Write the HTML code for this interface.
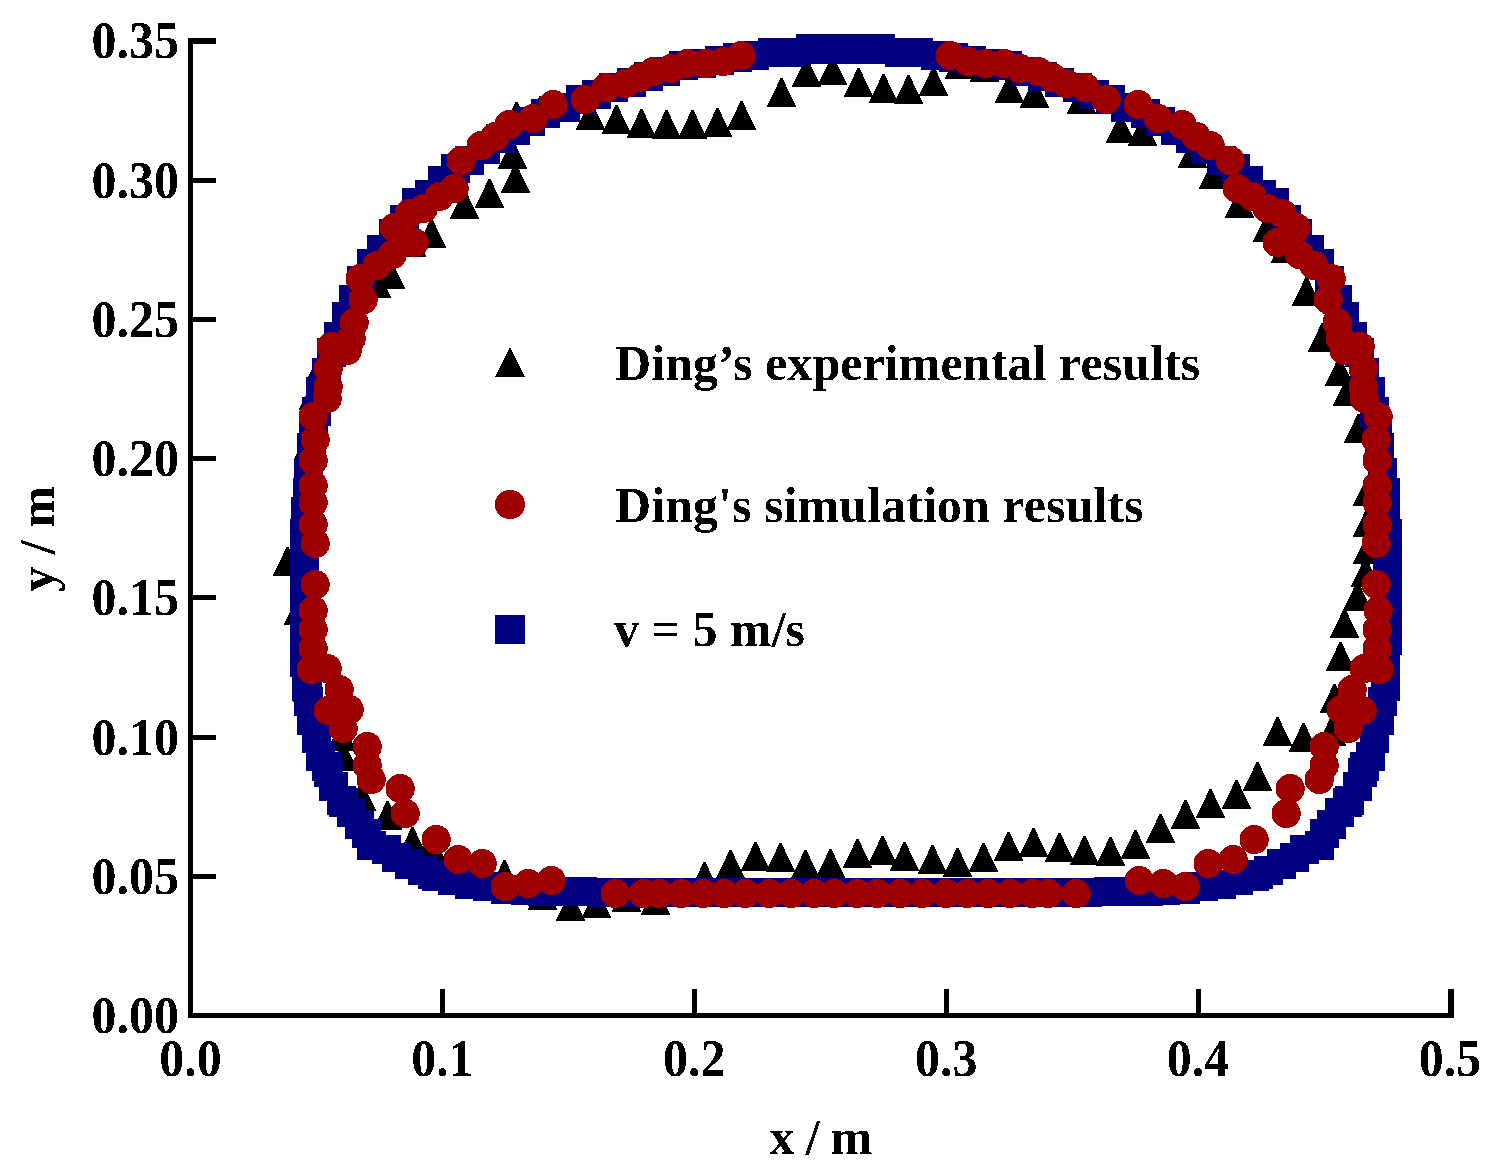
<!DOCTYPE html>
<html lang="en">
<head>
<meta charset="utf-8">
<title>Ding comparison chart</title>
<style>
html,body{margin:0;padding:0;background:#fff;}
body{width:1501px;height:1174px;overflow:hidden;}
svg{display:block;}
text{font-family:"Liberation Serif","Times New Roman",serif;font-weight:bold;font-size:50px;fill:#000;}
</style>
</head>
<body>
<svg width="1501" height="1174" viewBox="0 0 1501 1174">
<defs><filter id="al" x="-5%" y="-20%" width="110%" height="140%" color-interpolation-filters="sRGB"><feComponentTransfer><feFuncA type="discrete" tableValues="0 1"/></feComponentTransfer></filter></defs>
<rect width="1501" height="1174" fill="#fff"/>

<g fill="#000" shape-rendering="crispEdges">
<polygon points="272.68,576 302.32,576 288.4,547 286.6,547"/>
<polygon points="283.68,625 313.32,625 299.4,596 297.6,596"/>
<polygon points="307.68,378 337.32,378 323.4,349 321.6,349"/>
<polygon points="298.68,410 328.32,410 314.4,381 312.6,381"/>
<polygon points="294.68,458 324.32,458 310.4,429 308.6,429"/>
<polygon points="326.68,751 356.32,751 342.4,722 340.6,722"/>
<polygon points="328.68,771 358.32,771 344.4,742 342.6,742"/>
<polygon points="346.68,811 376.32,811 362.4,782 360.6,782"/>
<polygon points="372.68,830 402.32,830 388.4,801 386.6,801"/>
<polygon points="397.68,856 427.32,856 413.4,827 411.6,827"/>
<polygon points="415.68,860 445.32,860 431.4,831 429.6,831"/>
<polygon points="489.68,889 519.32,889 505.4,860 503.6,860"/>
<polygon points="527.68,910 557.32,910 543.4,881 541.6,881"/>
<polygon points="555.68,921 585.32,921 571.4,892 569.6,892"/>
<polygon points="581.68,918 611.32,918 597.4,889 595.6,889"/>
<polygon points="611.68,912 641.32,912 627.4,883 625.6,883"/>
<polygon points="640.68,915 670.32,915 656.4,886 654.6,886"/>
<polygon points="689.68,891 719.32,891 705.4,862 703.6,862"/>
<polygon points="715.68,879 745.32,879 731.4,850 729.6,850"/>
<polygon points="740.68,871 770.32,871 756.4,842 754.6,842"/>
<polygon points="765.68,872 795.32,872 781.4,843 779.6,843"/>
<polygon points="790.68,879 820.32,879 806.4,850 804.6,850"/>
<polygon points="815.68,878 845.32,878 831.4,849 829.6,849"/>
<polygon points="842.68,868 872.32,868 858.4,839 856.6,839"/>
<polygon points="867.68,865 897.32,865 883.4,836 881.6,836"/>
<polygon points="889.68,871 919.32,871 905.4,842 903.6,842"/>
<polygon points="917.68,874 947.32,874 933.4,845 931.6,845"/>
<polygon points="942.68,877 972.32,877 958.4,848 956.6,848"/>
<polygon points="968.68,872 998.32,872 984.4,843 982.6,843"/>
<polygon points="993.68,861 1023.32,861 1009.4,832 1007.6,832"/>
<polygon points="1018.68,857 1048.32,857 1034.4,828 1032.6,828"/>
<polygon points="1044.68,862 1074.32,862 1060.4,833 1058.6,833"/>
<polygon points="1069.68,865 1099.32,865 1085.4,836 1083.6,836"/>
<polygon points="1095.68,866 1125.32,866 1111.4,837 1109.6,837"/>
<polygon points="1120.68,859 1150.32,859 1136.4,830 1134.6,830"/>
<polygon points="1145.68,843 1175.32,843 1161.4,814 1159.6,814"/>
<polygon points="1170.68,829 1200.32,829 1186.4,800 1184.6,800"/>
<polygon points="1195.68,818 1225.32,818 1211.4,789 1209.6,789"/>
<polygon points="1221.68,809 1251.32,809 1237.4,780 1235.6,780"/>
<polygon points="1242.68,791 1272.32,791 1258.4,762 1256.6,762"/>
<polygon points="1262.68,746 1292.32,746 1278.4,717 1276.6,717"/>
<polygon points="1288.68,752 1318.32,752 1304.4,723 1302.6,723"/>
<polygon points="1316.68,746 1346.32,746 1332.4,717 1330.6,717"/>
<polygon points="1319.68,713 1349.32,713 1335.4,684 1333.6,684"/>
<polygon points="1325.68,671 1355.32,671 1341.4,642 1339.6,642"/>
<polygon points="1329.68,638 1359.32,638 1345.4,609 1343.6,609"/>
<polygon points="1342.68,611 1372.32,611 1358.4,582 1356.6,582"/>
<polygon points="1350.68,587 1380.32,587 1366.4,558 1364.6,558"/>
<polygon points="1352.68,564 1382.32,564 1368.4,535 1366.6,535"/>
<polygon points="1352.68,537 1382.32,537 1368.4,508 1366.6,508"/>
<polygon points="1352.68,506 1382.32,506 1368.4,477 1366.6,477"/>
<polygon points="1343.68,443 1373.32,443 1359.4,414 1357.6,414"/>
<polygon points="1332.68,406 1362.32,406 1348.4,377 1346.6,377"/>
<polygon points="1324.68,386 1354.32,386 1340.4,357 1338.6,357"/>
<polygon points="1307.68,352 1337.32,352 1323.4,323 1321.6,323"/>
<polygon points="1291.68,306 1321.32,306 1307.4,277 1305.6,277"/>
<polygon points="1270.68,263 1300.32,263 1286.4,234 1284.6,234"/>
<polygon points="1252.68,242 1282.32,242 1268.4,213 1266.6,213"/>
<polygon points="1224.68,218 1254.32,218 1240.4,189 1238.6,189"/>
<polygon points="1198.68,189 1228.32,189 1214.4,160 1212.6,160"/>
<polygon points="1177.68,168 1207.32,168 1193.4,139 1191.6,139"/>
<polygon points="1127.68,146 1157.32,146 1143.4,117 1141.6,117"/>
<polygon points="1105.68,143 1135.32,143 1121.4,114 1119.6,114"/>
<polygon points="1066.68,114 1096.32,114 1082.4,85 1080.6,85"/>
<polygon points="1019.68,108 1049.32,108 1035.4,79 1033.6,79"/>
<polygon points="994.68,103 1024.32,103 1010.4,74 1008.6,74"/>
<polygon points="969.68,82 999.32,82 985.4,53 983.6,53"/>
<polygon points="944.68,79 974.32,79 960.4,50 958.6,50"/>
<polygon points="918.68,96 948.32,96 934.4,67 932.6,67"/>
<polygon points="893.68,104 923.32,104 909.4,75 907.6,75"/>
<polygon points="868.68,103 898.32,103 884.4,74 882.6,74"/>
<polygon points="843.68,97 873.32,97 859.4,68 857.6,68"/>
<polygon points="817.68,85 847.32,85 833.4,56 831.6,56"/>
<polygon points="791.68,87 821.32,87 807.4,58 805.6,58"/>
<polygon points="766.68,107 796.32,107 782.4,78 780.6,78"/>
<polygon points="726.68,130 756.32,130 742.4,101 740.6,101"/>
<polygon points="702.68,137 732.32,137 718.4,108 716.6,108"/>
<polygon points="677.68,139 707.32,139 693.4,110 691.6,110"/>
<polygon points="651.68,139 681.32,139 667.4,110 665.6,110"/>
<polygon points="626.68,138 656.32,138 642.4,109 640.6,109"/>
<polygon points="601.68,134 631.32,134 617.4,105 615.6,105"/>
<polygon points="575.68,130 605.32,130 591.4,101 589.6,101"/>
<polygon points="525.68,125 555.32,125 541.4,96 539.6,96"/>
<polygon points="501.68,131 531.32,131 517.4,102 515.6,102"/>
<polygon points="497.68,169 527.32,169 513.4,140 511.6,140"/>
<polygon points="500.68,193 530.32,193 516.4,164 514.6,164"/>
<polygon points="474.68,208 504.32,208 490.4,179 488.6,179"/>
<polygon points="449.68,219 479.32,219 465.4,190 463.6,190"/>
<polygon points="416.68,248 446.32,248 432.4,219 430.6,219"/>
<polygon points="396.68,257 426.32,257 412.4,228 410.6,228"/>
<polygon points="375.68,289 405.32,289 391.4,260 389.6,260"/>
<polygon points="361.68,298 391.32,298 377.4,269 375.6,269"/>
</g>
<g fill="#000080" shape-rendering="crispEdges">
<rect x="831" y="35" width="29" height="29"/>
<rect x="831" y="34" width="29" height="29"/>
<rect x="848" y="35" width="29" height="29"/>
<rect x="814" y="35" width="29" height="29"/>
<rect x="849" y="34" width="29" height="29"/>
<rect x="813" y="34" width="29" height="29"/>
<rect x="857" y="35" width="29" height="29"/>
<rect x="805" y="35" width="29" height="29"/>
<rect x="866" y="34" width="29" height="29"/>
<rect x="796" y="34" width="29" height="29"/>
<rect x="885" y="38" width="29" height="29"/>
<rect x="777" y="38" width="29" height="29"/>
<rect x="904" y="38" width="29" height="29"/>
<rect x="758" y="38" width="29" height="29"/>
<rect x="921" y="41" width="29" height="29"/>
<rect x="740" y="41" width="29" height="29"/>
<rect x="939" y="43" width="29" height="29"/>
<rect x="723" y="43" width="29" height="29"/>
<rect x="957" y="46" width="29" height="29"/>
<rect x="705" y="46" width="29" height="29"/>
<rect x="975" y="49" width="29" height="29"/>
<rect x="687" y="49" width="29" height="29"/>
<rect x="993" y="51" width="29" height="29"/>
<rect x="669" y="51" width="29" height="29"/>
<rect x="1011" y="57" width="29" height="29"/>
<rect x="651" y="57" width="29" height="29"/>
<rect x="1028" y="62" width="29" height="29"/>
<rect x="634" y="62" width="29" height="29"/>
<rect x="1045" y="68" width="29" height="29"/>
<rect x="617" y="68" width="29" height="29"/>
<rect x="1063" y="73" width="29" height="29"/>
<rect x="599" y="73" width="29" height="29"/>
<rect x="1080" y="80" width="29" height="29"/>
<rect x="582" y="80" width="29" height="29"/>
<rect x="1096" y="85" width="29" height="29"/>
<rect x="566" y="85" width="29" height="29"/>
<rect x="1111" y="93" width="29" height="29"/>
<rect x="551" y="93" width="29" height="29"/>
<rect x="1131" y="99" width="29" height="29"/>
<rect x="531" y="99" width="29" height="29"/>
<rect x="1146" y="107" width="29" height="29"/>
<rect x="516" y="107" width="29" height="29"/>
<rect x="1161" y="116" width="29" height="29"/>
<rect x="501" y="116" width="29" height="29"/>
<rect x="1176" y="124" width="29" height="29"/>
<rect x="486" y="124" width="29" height="29"/>
<rect x="1191" y="135" width="29" height="29"/>
<rect x="471" y="135" width="29" height="29"/>
<rect x="1207" y="146" width="29" height="29"/>
<rect x="455" y="146" width="29" height="29"/>
<rect x="1221" y="154" width="29" height="29"/>
<rect x="441" y="154" width="29" height="29"/>
<rect x="1234" y="166" width="29" height="29"/>
<rect x="428" y="166" width="29" height="29"/>
<rect x="1247" y="180" width="29" height="29"/>
<rect x="415" y="180" width="29" height="29"/>
<rect x="1260" y="188" width="29" height="29"/>
<rect x="402" y="188" width="29" height="29"/>
<rect x="1272" y="205" width="29" height="29"/>
<rect x="390" y="205" width="29" height="29"/>
<rect x="1283" y="219" width="29" height="29"/>
<rect x="379" y="219" width="29" height="29"/>
<rect x="1295" y="235" width="29" height="29"/>
<rect x="367" y="235" width="29" height="29"/>
<rect x="1305" y="249" width="29" height="29"/>
<rect x="357" y="249" width="29" height="29"/>
<rect x="1315" y="266" width="29" height="29"/>
<rect x="347" y="266" width="29" height="29"/>
<rect x="1323" y="285" width="29" height="29"/>
<rect x="339" y="285" width="29" height="29"/>
<rect x="1330" y="302" width="29" height="29"/>
<rect x="332" y="302" width="29" height="29"/>
<rect x="1338" y="322" width="29" height="29"/>
<rect x="324" y="322" width="29" height="29"/>
<rect x="1345" y="338" width="29" height="29"/>
<rect x="317" y="338" width="29" height="29"/>
<rect x="1350" y="358" width="29" height="29"/>
<rect x="312" y="358" width="29" height="29"/>
<rect x="1356" y="377" width="29" height="29"/>
<rect x="306" y="377" width="29" height="29"/>
<rect x="1360" y="397" width="29" height="29"/>
<rect x="302" y="397" width="29" height="29"/>
<rect x="1363" y="416" width="29" height="29"/>
<rect x="299" y="416" width="29" height="29"/>
<rect x="1365" y="433" width="29" height="29"/>
<rect x="297" y="433" width="29" height="29"/>
<rect x="1368" y="458" width="29" height="29"/>
<rect x="294" y="458" width="29" height="29"/>
<rect x="1371" y="478" width="29" height="29"/>
<rect x="293" y="478" width="29" height="29"/>
<rect x="1371" y="497" width="29" height="29"/>
<rect x="291" y="497" width="29" height="29"/>
<rect x="1373" y="519" width="29" height="29"/>
<rect x="290" y="519" width="29" height="29"/>
<rect x="1373" y="537" width="29" height="29"/>
<rect x="290" y="537" width="29" height="29"/>
<rect x="1373" y="555" width="29" height="29"/>
<rect x="290" y="555" width="29" height="29"/>
<rect x="1373" y="573" width="29" height="29"/>
<rect x="290" y="573" width="29" height="29"/>
<rect x="1373" y="591" width="29" height="29"/>
<rect x="290" y="591" width="29" height="29"/>
<rect x="1373" y="609" width="29" height="29"/>
<rect x="290" y="609" width="29" height="29"/>
<rect x="1373" y="626" width="29" height="29"/>
<rect x="290" y="626" width="29" height="29"/>
<rect x="1371" y="645" width="29" height="29"/>
<rect x="292" y="645" width="29" height="29"/>
<rect x="1371" y="658" width="29" height="29"/>
<rect x="292" y="658" width="29" height="29"/>
<rect x="1371" y="672" width="29" height="29"/>
<rect x="292" y="672" width="29" height="29"/>
<rect x="1368" y="687" width="29" height="29"/>
<rect x="294" y="687" width="29" height="29"/>
<rect x="1365" y="706" width="29" height="29"/>
<rect x="297" y="706" width="29" height="29"/>
<rect x="1360" y="724" width="29" height="29"/>
<rect x="302" y="724" width="29" height="29"/>
<rect x="1356" y="742" width="29" height="29"/>
<rect x="306" y="742" width="29" height="29"/>
<rect x="1350" y="752" width="29" height="29"/>
<rect x="312" y="752" width="29" height="29"/>
<rect x="1348" y="758" width="29" height="29"/>
<rect x="314" y="758" width="29" height="29"/>
<rect x="1343" y="772" width="29" height="29"/>
<rect x="319" y="772" width="29" height="29"/>
<rect x="1335" y="786" width="29" height="29"/>
<rect x="327" y="786" width="29" height="29"/>
<rect x="1333" y="788" width="29" height="29"/>
<rect x="329" y="788" width="29" height="29"/>
<rect x="1325" y="798" width="29" height="29"/>
<rect x="337" y="798" width="29" height="29"/>
<rect x="1317" y="810" width="29" height="29"/>
<rect x="345" y="810" width="29" height="29"/>
<rect x="1310" y="819" width="29" height="29"/>
<rect x="352" y="819" width="29" height="29"/>
<rect x="1305" y="831" width="29" height="29"/>
<rect x="357" y="831" width="29" height="29"/>
<rect x="1290" y="835" width="29" height="29"/>
<rect x="372" y="835" width="29" height="29"/>
<rect x="1280" y="843" width="29" height="29"/>
<rect x="382" y="843" width="29" height="29"/>
<rect x="1267" y="849" width="29" height="29"/>
<rect x="395" y="849" width="29" height="29"/>
<rect x="1267" y="850" width="29" height="29"/>
<rect x="395" y="850" width="29" height="29"/>
<rect x="1254" y="856" width="29" height="29"/>
<rect x="408" y="856" width="29" height="29"/>
<rect x="1244" y="860" width="29" height="29"/>
<rect x="418" y="860" width="29" height="29"/>
<rect x="1240" y="862" width="29" height="29"/>
<rect x="422" y="862" width="29" height="29"/>
<rect x="1224" y="866" width="29" height="29"/>
<rect x="438" y="866" width="29" height="29"/>
<rect x="1207" y="870" width="29" height="29"/>
<rect x="455" y="870" width="29" height="29"/>
<rect x="1189" y="872" width="29" height="29"/>
<rect x="473" y="872" width="29" height="29"/>
<rect x="1171" y="875" width="29" height="29"/>
<rect x="491" y="875" width="29" height="29"/>
<rect x="1151" y="876" width="29" height="29"/>
<rect x="511" y="876" width="29" height="29"/>
<rect x="1134" y="877" width="29" height="29"/>
<rect x="528" y="877" width="29" height="29"/>
<rect x="1114" y="877" width="29" height="29"/>
<rect x="548" y="877" width="29" height="29"/>
<rect x="1094" y="877" width="29" height="29"/>
<rect x="568" y="877" width="29" height="29"/>
<rect x="1073" y="878" width="29" height="29"/>
<rect x="589" y="878" width="29" height="29"/>
<rect x="1055" y="878" width="29" height="29"/>
<rect x="607" y="878" width="29" height="29"/>
<rect x="1037" y="878" width="29" height="29"/>
<rect x="625" y="878" width="29" height="29"/>
<rect x="1019" y="878" width="29" height="29"/>
<rect x="643" y="878" width="29" height="29"/>
<rect x="1001" y="878" width="29" height="29"/>
<rect x="661" y="878" width="29" height="29"/>
<rect x="983" y="878" width="29" height="29"/>
<rect x="679" y="878" width="29" height="29"/>
<rect x="965" y="878" width="29" height="29"/>
<rect x="697" y="878" width="29" height="29"/>
<rect x="947" y="878" width="29" height="29"/>
<rect x="715" y="878" width="29" height="29"/>
<rect x="929" y="878" width="29" height="29"/>
<rect x="733" y="878" width="29" height="29"/>
<rect x="911" y="878" width="29" height="29"/>
<rect x="751" y="878" width="29" height="29"/>
<rect x="893" y="878" width="29" height="29"/>
<rect x="769" y="878" width="29" height="29"/>
<rect x="875" y="878" width="29" height="29"/>
<rect x="787" y="878" width="29" height="29"/>
<rect x="857" y="878" width="29" height="29"/>
<rect x="805" y="878" width="29" height="29"/>
<rect x="839" y="878" width="29" height="29"/>
<rect x="823" y="878" width="29" height="29"/>
<rect x="831" y="878" width="29" height="29"/>
<rect x="290" y="640" width="29" height="29"/>
<rect x="290" y="648" width="29" height="29"/>
<rect x="293" y="673" width="29" height="29"/>
</g>
<g fill="#9e0000" shape-rendering="crispEdges">
<circle cx="950.2" cy="55.54" r="14.6"/>
<circle cx="741.2" cy="55.54" r="14.6"/>
<circle cx="968.2" cy="61.54" r="14.6"/>
<circle cx="723.2" cy="61.54" r="14.6"/>
<circle cx="985.2" cy="63.54" r="14.6"/>
<circle cx="706.2" cy="63.54" r="14.6"/>
<circle cx="1004.2" cy="63.54" r="14.6"/>
<circle cx="687.2" cy="63.54" r="14.6"/>
<circle cx="1020.2" cy="68.54" r="14.6"/>
<circle cx="671.2" cy="68.54" r="14.6"/>
<circle cx="1038.2" cy="71.54" r="14.6"/>
<circle cx="653.2" cy="71.54" r="14.6"/>
<circle cx="1052.2" cy="77.54" r="14.6"/>
<circle cx="639.2" cy="77.54" r="14.6"/>
<circle cx="1066.2" cy="83.54" r="14.6"/>
<circle cx="625.2" cy="83.54" r="14.6"/>
<circle cx="1085.2" cy="87.54" r="14.6"/>
<circle cx="606.2" cy="87.54" r="14.6"/>
<circle cx="1106.2" cy="99.54" r="14.6"/>
<circle cx="585.2" cy="99.54" r="14.6"/>
<circle cx="1138.2" cy="104.54" r="14.6"/>
<circle cx="553.2" cy="104.54" r="14.6"/>
<circle cx="1158.2" cy="118.54" r="14.6"/>
<circle cx="533.2" cy="118.54" r="14.6"/>
<circle cx="1182.2" cy="124.54" r="14.6"/>
<circle cx="509.2" cy="124.54" r="14.6"/>
<circle cx="1196.2" cy="136.54" r="14.6"/>
<circle cx="495.2" cy="136.54" r="14.6"/>
<circle cx="1210.2" cy="145.54" r="14.6"/>
<circle cx="481.2" cy="145.54" r="14.6"/>
<circle cx="1230.2" cy="160.54" r="14.6"/>
<circle cx="461.2" cy="160.54" r="14.6"/>
<circle cx="1237.2" cy="188.54" r="14.6"/>
<circle cx="454.2" cy="188.54" r="14.6"/>
<circle cx="1252.2" cy="196.54" r="14.6"/>
<circle cx="439.2" cy="196.54" r="14.6"/>
<circle cx="1267.2" cy="208.54" r="14.6"/>
<circle cx="423.2" cy="208.54" r="14.6"/>
<circle cx="1282.2" cy="213.54" r="14.6"/>
<circle cx="409.2" cy="213.54" r="14.6"/>
<circle cx="1296.2" cy="227.54" r="14.6"/>
<circle cx="394.2" cy="227.54" r="14.6"/>
<circle cx="1277.2" cy="242.54" r="14.6"/>
<circle cx="414.2" cy="242.54" r="14.6"/>
<circle cx="1299.2" cy="254.54" r="14.6"/>
<circle cx="392.2" cy="254.54" r="14.6"/>
<circle cx="1314.2" cy="265.54" r="14.6"/>
<circle cx="377.2" cy="265.54" r="14.6"/>
<circle cx="1331.2" cy="278.54" r="14.6"/>
<circle cx="360.2" cy="278.54" r="14.6"/>
<circle cx="1328.2" cy="299.54" r="14.6"/>
<circle cx="363.2" cy="299.54" r="14.6"/>
<circle cx="1337.2" cy="322.54" r="14.6"/>
<circle cx="354.2" cy="322.54" r="14.6"/>
<circle cx="1340.2" cy="338.54" r="14.6"/>
<circle cx="351.2" cy="338.54" r="14.6"/>
<circle cx="1344.2" cy="350.54" r="14.6"/>
<circle cx="347.2" cy="350.54" r="14.6"/>
<circle cx="1360.2" cy="346.54" r="14.6"/>
<circle cx="331.2" cy="346.54" r="14.6"/>
<circle cx="1363.2" cy="368.54" r="14.6"/>
<circle cx="328.2" cy="368.54" r="14.6"/>
<circle cx="1363.2" cy="386.54" r="14.6"/>
<circle cx="328.2" cy="386.54" r="14.6"/>
<circle cx="1364.2" cy="398.54" r="14.6"/>
<circle cx="327.2" cy="398.54" r="14.6"/>
<circle cx="1378.2" cy="416.54" r="14.6"/>
<circle cx="313.2" cy="416.54" r="14.6"/>
<circle cx="1376.2" cy="439.54" r="14.6"/>
<circle cx="315.2" cy="439.54" r="14.6"/>
<circle cx="1377.2" cy="460.54" r="14.6"/>
<circle cx="313.2" cy="460.54" r="14.6"/>
<circle cx="1377.2" cy="485.54" r="14.6"/>
<circle cx="313.2" cy="485.54" r="14.6"/>
<circle cx="1377.2" cy="502.54" r="14.6"/>
<circle cx="313.2" cy="502.54" r="14.6"/>
<circle cx="1377.2" cy="524.54" r="14.6"/>
<circle cx="313.2" cy="524.54" r="14.6"/>
<circle cx="1376.2" cy="543.54" r="14.6"/>
<circle cx="315.2" cy="543.54" r="14.6"/>
<circle cx="1376.2" cy="584.54" r="14.6"/>
<circle cx="315.2" cy="584.54" r="14.6"/>
<circle cx="1378.2" cy="610.54" r="14.6"/>
<circle cx="313.2" cy="610.54" r="14.6"/>
<circle cx="1377.2" cy="629.54" r="14.6"/>
<circle cx="313.2" cy="629.54" r="14.6"/>
<circle cx="1377.2" cy="648.54" r="14.6"/>
<circle cx="313.2" cy="648.54" r="14.6"/>
<circle cx="1379.2" cy="669.54" r="14.6"/>
<circle cx="311.2" cy="669.54" r="14.6"/>
<circle cx="1364.2" cy="668.54" r="14.6"/>
<circle cx="327.2" cy="668.54" r="14.6"/>
<circle cx="1352.2" cy="689.54" r="14.6"/>
<circle cx="339.2" cy="689.54" r="14.6"/>
<circle cx="1362.2" cy="710.54" r="14.6"/>
<circle cx="328.2" cy="710.54" r="14.6"/>
<circle cx="1341.2" cy="709.54" r="14.6"/>
<circle cx="349.2" cy="709.54" r="14.6"/>
<circle cx="1348.2" cy="728.54" r="14.6"/>
<circle cx="343.2" cy="728.54" r="14.6"/>
<circle cx="1324.2" cy="746.54" r="14.6"/>
<circle cx="367.2" cy="746.54" r="14.6"/>
<circle cx="1324.2" cy="765.54" r="14.6"/>
<circle cx="367.2" cy="765.54" r="14.6"/>
<circle cx="1319.2" cy="779.54" r="14.6"/>
<circle cx="371.2" cy="779.54" r="14.6"/>
<circle cx="1290.2" cy="788.54" r="14.6"/>
<circle cx="400.2" cy="788.54" r="14.6"/>
<circle cx="1286.2" cy="813.54" r="14.6"/>
<circle cx="405.2" cy="813.54" r="14.6"/>
<circle cx="1254.2" cy="839.54" r="14.6"/>
<circle cx="436.2" cy="839.54" r="14.6"/>
<circle cx="1233.2" cy="859.54" r="14.6"/>
<circle cx="458.2" cy="859.54" r="14.6"/>
<circle cx="1208.2" cy="863.54" r="14.6"/>
<circle cx="482.2" cy="863.54" r="14.6"/>
<circle cx="1185.2" cy="886.54" r="14.6"/>
<circle cx="505.2" cy="886.54" r="14.6"/>
<circle cx="1163.2" cy="883.54" r="14.6"/>
<circle cx="528.2" cy="883.54" r="14.6"/>
<circle cx="1139.2" cy="880.54" r="14.6"/>
<circle cx="551.2" cy="880.54" r="14.6"/>
<circle cx="1076.2" cy="893.54" r="14.6"/>
<circle cx="615.2" cy="893.54" r="14.6"/>
<circle cx="1048.2" cy="893.54" r="14.6"/>
<circle cx="643.2" cy="893.54" r="14.6"/>
<circle cx="1032.2" cy="893.54" r="14.6"/>
<circle cx="659.2" cy="893.54" r="14.6"/>
<circle cx="1010.2" cy="893.54" r="14.6"/>
<circle cx="681.2" cy="893.54" r="14.6"/>
<circle cx="988.2" cy="893.54" r="14.6"/>
<circle cx="703.2" cy="893.54" r="14.6"/>
<circle cx="967.2" cy="893.54" r="14.6"/>
<circle cx="724.2" cy="893.54" r="14.6"/>
<circle cx="946.2" cy="893.54" r="14.6"/>
<circle cx="745.2" cy="893.54" r="14.6"/>
<circle cx="922.2" cy="893.54" r="14.6"/>
<circle cx="769.2" cy="893.54" r="14.6"/>
<circle cx="900.2" cy="893.54" r="14.6"/>
<circle cx="791.2" cy="893.54" r="14.6"/>
<circle cx="877.2" cy="893.54" r="14.6"/>
<circle cx="814.2" cy="893.54" r="14.6"/>
<circle cx="857.2" cy="893.54" r="14.6"/>
<circle cx="834.2" cy="893.54" r="14.6"/>
</g>
<g fill="#000" shape-rendering="crispEdges">
<rect x="188" y="38" width="5" height="980"/>
<rect x="188" y="38" width="28" height="6"/>
<rect x="188" y="1013" width="1266" height="5"/>
<rect x="188" y="874" width="28" height="5"/>
<rect x="188" y="735" width="28" height="5"/>
<rect x="188" y="595" width="28" height="5"/>
<rect x="188" y="456" width="28" height="5"/>
<rect x="188" y="317" width="28" height="5"/>
<rect x="188" y="178" width="28" height="5"/>
<rect x="440" y="989" width="5" height="27"/>
<rect x="692" y="989" width="5" height="27"/>
<rect x="944" y="989" width="5" height="27"/>
<rect x="1196" y="989" width="5" height="27"/>
<rect x="1448" y="989" width="6" height="27"/>
</g>
<g filter="url(#al)">
<text transform="translate(179,1032.9) scale(1,1.055)" text-anchor="end">0.00</text>
<text transform="translate(179,893.7) scale(1,1.055)" text-anchor="end">0.05</text>
<text transform="translate(179,754.5) scale(1,1.055)" text-anchor="end">0.10</text>
<text transform="translate(179,615.3) scale(1,1.055)" text-anchor="end">0.15</text>
<text transform="translate(179,476) scale(1,1.055)" text-anchor="end">0.20</text>
<text transform="translate(179,336.8) scale(1,1.055)" text-anchor="end">0.25</text>
<text transform="translate(179,197.6) scale(1,1.055)" text-anchor="end">0.30</text>
<text transform="translate(179,58.4) scale(1,1.055)" text-anchor="end">0.35</text>
<text transform="translate(190.5,1075.7) scale(1,1.055)" text-anchor="middle">0.0</text>
<text transform="translate(442.4,1075.7) scale(1,1.055)" text-anchor="middle">0.1</text>
<text transform="translate(694.3,1075.7) scale(1,1.055)" text-anchor="middle">0.2</text>
<text transform="translate(946.2,1075.7) scale(1,1.055)" text-anchor="middle">0.3</text>
<text transform="translate(1198.1,1075.7) scale(1,1.055)" text-anchor="middle">0.4</text>
<text transform="translate(1450,1075.7) scale(1,1.055)" text-anchor="middle">0.5</text>
<text x="821" y="1154" text-anchor="middle" textLength="103" lengthAdjust="spacing">x / m</text>
<text transform="translate(54,539) rotate(-90)" text-anchor="middle">y / m</text>
<polygon points="494.95,377 525.05,377 510,346.9" fill="#000" shape-rendering="crispEdges"/>
<ellipse cx="510" cy="504.5" rx="15.1" ry="14.6" fill="#9e0000" shape-rendering="crispEdges"/>
<rect x="495" y="615" width="30" height="29" fill="#000080" shape-rendering="crispEdges"/>
<text x="615" y="380" textLength="585.3" lengthAdjust="spacing">Ding’s experimental results</text>
<text x="615" y="522" textLength="528.5" lengthAdjust="spacing">Ding's simulation results</text>
<text x="614" y="645.8">v = 5 m/s</text>
</g>
</svg>
</body>
</html>
